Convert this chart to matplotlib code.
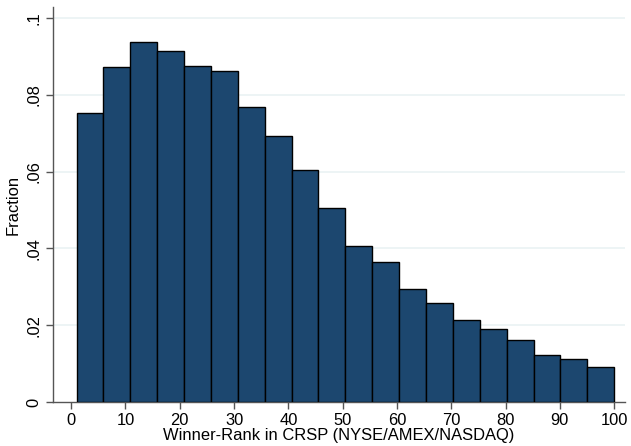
import matplotlib
matplotlib.use("Agg")
import matplotlib.pyplot as plt
import numpy as np

plt.rcParams['font.family'] = ['Liberation Sans', 'DejaVu Sans']

bin_start = 1.0
bin_width = 4.95
fractions = [0.0753, 0.0872, 0.0936, 0.0913, 0.0874, 0.0862, 0.0767, 0.0692,
             0.0603, 0.0506, 0.0406, 0.0364, 0.0293, 0.0258, 0.0214, 0.0191,
             0.0161, 0.0122, 0.0112, 0.0092]
xticks = [0, 10, 20, 30, 40, 50, 60, 70, 80, 90, 100]
yticks = [0, 0.02, 0.04, 0.06, 0.08, 0.1]
ytick_labels = ['0', '.02', '.04', '.06', '.08', '.1']
xlabel = 'Winner-Rank in CRSP (NYSE/AMEX/NASDAQ)'
ylabel = 'Fraction'

fig = plt.figure(figsize=(6.31, 4.46), dpi=100)
ax = fig.add_axes([0.0835, 0.0987, 0.9905 - 0.0835, 0.984 - 0.0987])

lefts = bin_start + bin_width * np.arange(len(fractions))
ax.bar(lefts, fractions, width=bin_width, align='edge', color='#1c476f',
       edgecolor='black', linewidth=1.0, zorder=3)

for y in yticks[1:]:
    ax.axhline(y, color='#eaf2f3', linewidth=1.2, zorder=1)

ax.set_xlim(-3.4, 102)
ax.set_ylim(0, 0.1028)
ax.set_xticks(xticks)
ax.set_yticks(yticks)
ax.set_yticklabels(ytick_labels, rotation=90, va='center')
ax.tick_params(axis='both', labelsize=11.9, color='#555555', length=5, width=1.0,
               direction='out', pad=3)
for s in ['top', 'right']:
    ax.spines[s].set_visible(False)
for s in ['left', 'bottom']:
    ax.spines[s].set_color('#555555')
    ax.spines[s].set_linewidth(1.0)

ax.set_xlabel(xlabel, fontsize=11.9, labelpad=0)
ax.set_ylabel(ylabel, fontsize=11.9, labelpad=4)

fig.savefig('out.png', dpi=100)
